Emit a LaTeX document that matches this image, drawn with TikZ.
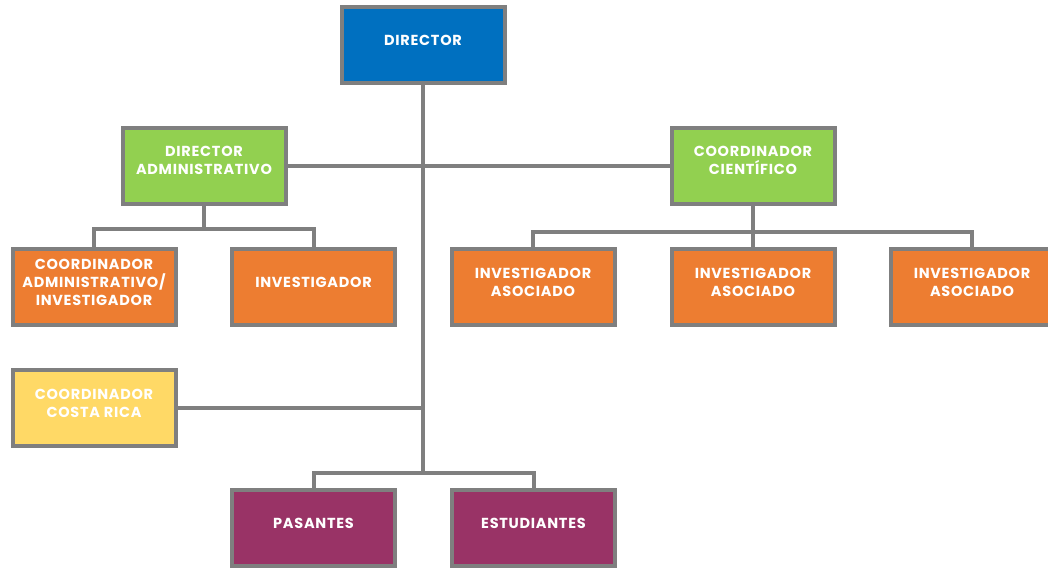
\documentclass[tikz,border=0pt]{standalone}
\usepackage{fontspec}
\setmainfont{Poppins}[LetterSpace=5]
\definecolor{boxgray}{HTML}{7F7F7F}
\definecolor{dirblue}{HTML}{0070C0}
\definecolor{subgreen}{HTML}{92D050}
\definecolor{invorange}{HTML}{ED7D31}
\definecolor{crYellow}{HTML}{FFD966}
\definecolor{stuPurple}{HTML}{993366}
\tikzset{
  orgbox/.style={draw=boxgray, line width=4pt, minimum width=163pt, minimum height=76pt,
    align=center, text=white, font=\fontsize{14.5}{18}\selectfont\bfseries, inner sep=0pt,
    execute at end node={\rule[-10pt]{0pt}{10pt}}},
  orgline/.style={draw=boxgray, line width=4pt}
}
\begin{document}
\begin{tikzpicture}[x=1pt,y=-1pt]
  \useasboundingbox (0,0) rectangle (1048,567);
  \clip (0,0) rectangle (1048,567);
  % boxes
  \node [orgbox, fill=dirblue] (dir) at (423,45) {DIRECTOR};
  \node [orgbox, fill=subgreen] (da) at (204,165.5) {DIRECTOR\\ADMINISTRATIVO};
  \node [orgbox, fill=subgreen] (cc) at (753,165.5) {COORDINADOR\\CIENTÍFICO};
  \node [orgbox, fill=invorange] (ca) at (94,287) {COORDINADOR\\ADMINISTRATIVO/\\INVESTIGADOR};
  \node [orgbox, fill=invorange] (inv) at (313.5,287) {INVESTIGADOR};
  \node [orgbox, fill=invorange] (ia1) at (533,287) {INVESTIGADOR\\ASOCIADO};
  \node [orgbox, fill=invorange] (ia2) at (753,287) {INVESTIGADOR\\ASOCIADO};
  \node [orgbox, fill=invorange] (ia3) at (972,287) {INVESTIGADOR\\ASOCIADO};
  \node [orgbox, fill=crYellow] (cr) at (94,408) {COORDINADOR\\COSTA RICA};
  \node [orgbox, fill=stuPurple] (pas) at (313.5,528) {PASANTES};
  \node [orgbox, fill=stuPurple] (est) at (533.5,528) {ESTUDIANTES};
  % junctions
  \coordinate (jbot) at (423,473);
  \coordinate (jda) at (204,229);
  \coordinate (jcc) at (753,232);
  % connectors
  \draw [orgline] (dir.south) -- (jbot);
  \draw [orgline] (pas.north) |- (jbot) -| (est.north);
  \draw [orgline] (da.east) -- (cc.west);
  \draw [orgline] (da.south) -- (jda);
  \draw [orgline] (ca.north) |- (jda) -| (inv.north);
  \draw [orgline] (cc.south) -- (ia2.north);
  \draw [orgline] (ia1.north) |- (jcc) -| (ia3.north);
  \draw [orgline] (cr.east) -- (cr.east -| dir.south);
\end{tikzpicture}
\end{document}
